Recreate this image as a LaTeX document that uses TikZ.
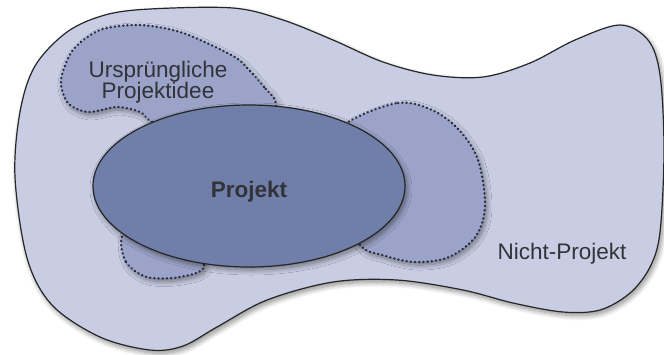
\documentclass[tikz,border=0pt]{standalone}
\usepackage{fontspec}
\setmainfont{Liberation Sans}
\usetikzlibrary{shapes.geometric,shadows.blur}
\definecolor{outerfill}{RGB}{200,205,227}
\definecolor{ideafill}{RGB}{155,164,200}
\definecolor{projfill}{RGB}{111,127,169}
\definecolor{dotline}{RGB}{38,42,68}
\definecolor{labeltext}{RGB}{50,50,56}
\tikzset{
  softshadow/.style={blur shadow={shadow xshift=2pt, shadow yshift=-3pt,
      shadow blur radius=5pt, shadow blur steps=10, shadow opacity=45}},
  universe/.style={fill=outerfill, draw=black!85, line width=1.2pt, softshadow},
  ideablob/.style={fill=ideafill, softshadow},
  dotrim/.style={draw=dotline, line width=2.3pt,
      dash pattern=on 0.4pt off 3.8pt, line cap=round},
  projshape/.style={ellipse, fill=projfill, draw=black!85, line width=1.2pt,
      minimum width=312pt, minimum height=162pt, inner sep=0pt, softshadow},
  lbl/.style={text=labeltext, font=\fontsize{22.5}{21}\selectfont, inner sep=0pt}
}
\begin{document}
\begin{tikzpicture}[x=1pt, y=-1pt]
\useasboundingbox (0,0) rectangle (664,354);

% the surrounding "non-project" area
\draw[universe] plot[smooth cycle, tension=0.55] coordinates {
  (15,177) (20,112) (35,66) (67,32) (105,15) (150,9) (233,8) (283,20)
  (333,40) (383,62) (433,75) (483,77) (530,63) (575,40) (620,25) (648,40)
  (660,75) (664,150) (660,232) (650,267) (630,293) (600,310) (563,312)
  (513,303) (463,290) (397,280) (333,282) (267,300) (217,327) (183,346)
  (150,350) (100,337) (52,305) (27,258)};

% original project idea (upper left), partly covered by the project
\path[ideablob, postaction=dotrim] plot[smooth cycle, tension=0.5] coordinates {
  (276,104) (264,87) (249,70) (233,56) (183,33) (140,25) (100,30) (73,50)
  (61,80) (68,103) (88,112) (117,107) (140,112) (152,122) (200,150) (265,135)};

% right part of the scope
\path[ideablob, postaction=dotrim] plot[smooth cycle, tension=0.55] coordinates {
  (350,121) (398,103) (432,110) (459,130) (478,160) (485,205) (476,236)
  (449,257) (415,262) (382,255) (360,245) (330,200) (320,150)};

% lower left part of the scope
\path[ideablob, postaction=dotrim] plot[smooth cycle, tension=0.55] coordinates {
  (122,236) (126,262) (147,277) (180,277) (204,266) (185,230) (140,220)};

% the project itself
\node[projshape] (proj) at (249,186) {};
\node[lbl, font=\fontsize{22.5}{21}\selectfont\bfseries, anchor=base] (projlabel) at (249,197) {Projekt};

% labels (a two-line node's base anchor sits on its last line)
\node[lbl, align=center, anchor=base] (idealabel) at (158,98) {Ursprüngliche\\Projektidee};
\node[lbl, anchor=base] (restlabel) at (562,259) {Nicht-Projekt};
\end{tikzpicture}
\end{document}
